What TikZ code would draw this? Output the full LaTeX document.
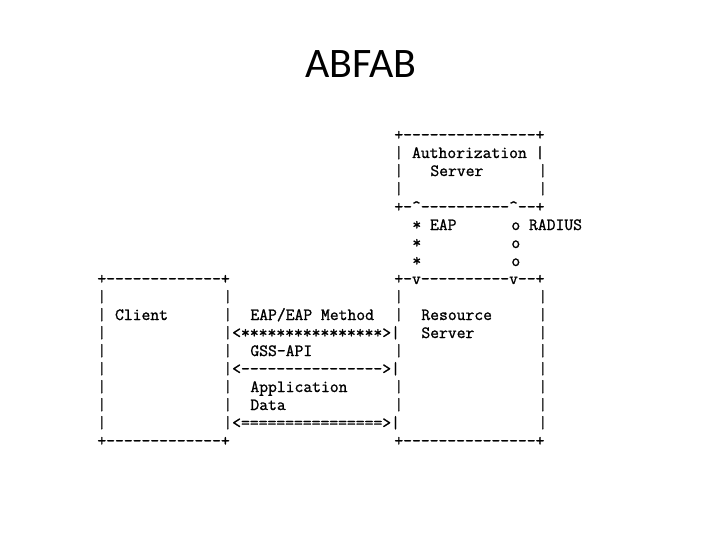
\documentclass[tikz,border=0pt]{standalone}
\usepackage{fontspec}
\newfontfamily\asciifont{Latin Modern Mono}[AutoFakeBold=1.2]
\newfontfamily\titlefont{Carlito}
\begin{document}
\begin{tikzpicture}[x=1pt,y=-1pt,
  txt/.style={font=\asciifont\bfseries\fontsize{17.14}{18}\selectfont, anchor=base west, inner sep=0pt, text=black},
  ttl/.style={font=\titlefont\fontsize{42}{50}\selectfont, anchor=base, inner sep=0pt, text=black}]
\useasboundingbox (0,0) rectangle (720,540);
\node[ttl] (title) at (361,78) {ABFAB};
\begin{scope}[shift={(97.2,140)}, x=9pt, y=-18pt]
% Authorization server
\node[txt] (a0) at (33,0) {+---------------+};
\node[txt] (a1) at (33,1) {| Authorization |};
\node[txt] (a2l) at (33,2) {|};
\node[txt] (a2t) at (37,2) {Server};
\node[txt] (a2r) at (49,2) {|};
\node[txt] (a3l) at (33,3) {|};
\node[txt] (a3r) at (49,3) {|};
\node[txt] (a4) at (33,4) {+-\textasciicircum----------\textasciicircum--+};
% EAP / RADIUS links
\node[txt] (e5) at (35,5) {* EAP};
\node[txt] (r5) at (46,5) {o RADIUS};
\node[txt] (e6) at (35,6) {*};
\node[txt] (r6) at (46,6) {o};
\node[txt] (e7) at (35,7) {*};
\node[txt] (r7) at (46,7) {o};
% row 8
\node[txt] (c8) at (0,8) {+-------------+};
\node[txt] (s8) at (33,8) {+-v----------v--+};
% row 9
\node[txt] (c9l) at (0,9) {|};
\node[txt] (c9r) at (14,9) {|};
\node[txt] (s9l) at (33,9) {|};
\node[txt] (s9r) at (49,9) {|};
% row 10
\node[txt] (c10l) at (0,10) {| Client};
\node[txt] (c10r) at (14,10) {|};
\node[txt] (m10) at (17,10) {EAP/EAP Method};
\node[txt] (s10l) at (33,10) {|};
\node[txt] (s10t) at (36,10) {Resource};
\node[txt] (s10r) at (49,10) {|};
% row 11
\node[txt] (c11l) at (0,11) {|};
\node[txt] (arr11) at (14,11) {|<****************>|};
\node[txt] (s11t) at (36,11) {Server};
\node[txt] (s11r) at (49,11) {|};
% row 12
\node[txt] (c12l) at (0,12) {|};
\node[txt] (c12r) at (14,12) {|};
\node[txt] (m12) at (17,12) {GSS-API};
\node[txt] (s12l) at (33,12) {|};
\node[txt] (s12r) at (49,12) {|};
% row 13
\node[txt] (c13l) at (0,13) {|};
\node[txt] (arr13) at (14,13) {|<---------------->|};
\node[txt] (s13r) at (49,13) {|};
% row 14
\node[txt] (c14l) at (0,14) {|};
\node[txt] (c14r) at (14,14) {|};
\node[txt] (m14) at (17,14) {Application};
\node[txt] (s14l) at (33,14) {|};
\node[txt] (s14r) at (49,14) {|};
% row 15
\node[txt] (c15l) at (0,15) {|};
\node[txt] (c15r) at (14,15) {|};
\node[txt] (m15) at (17,15) {Data};
\node[txt] (s15l) at (33,15) {|};
\node[txt] (s15r) at (49,15) {|};
% row 16
\node[txt] (c16l) at (0,16) {|};
\node[txt] (arr16) at (14,16) {|<================>|};
\node[txt] (s16r) at (49,16) {|};
% row 17
\node[txt] (c17) at (0,17) {+-------------+};
\node[txt] (s17) at (33,17) {+---------------+};
\end{scope}
\end{tikzpicture}
\end{document}
